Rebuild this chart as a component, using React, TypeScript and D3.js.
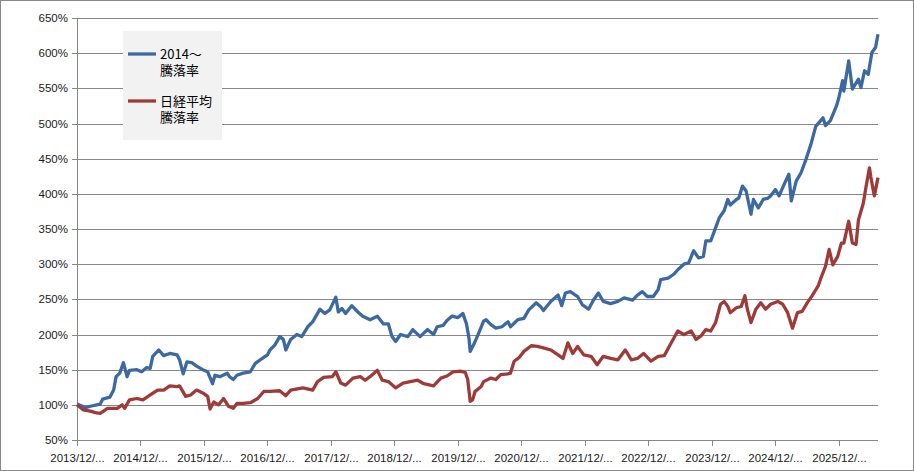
import React from 'react';
import * as d3 from 'd3';

// weekly index from the first week of 2013/12, value in %
const stockSeries: [number, number][] = [
  [0, 101], [7, 96], [11, 98], [19, 101], [21, 108], [27, 111], [30, 121], [32, 140], [35, 145], [38, 160],
  [41, 140], [43, 149], [49, 150], [53, 147], [57, 153], [60, 152], [62, 169], [67, 178], [71, 170], [76, 173],
  [82, 171], [84, 164], [87, 144], [90, 161], [94, 160], [98, 155], [103, 150], [107, 147], [111, 130], [113, 142],
  [117, 140], [123, 145], [125, 140], [128, 136], [131, 142], [136, 145], [142, 147], [146, 159], [150, 164], [156, 171],
  [158, 178], [162, 185], [166, 197], [169, 193], [171, 178], [175, 193], [180, 200], [184, 197], [189, 211], [193, 218],
  [197, 230], [199, 236], [203, 230], [207, 235], [212, 253], [214, 232], [217, 237], [220, 230], [225, 241], [230, 232],
  [234, 226], [240, 221], [246, 226], [251, 215], [255, 215], [258, 197], [261, 190], [265, 200], [271, 197], [275, 207],
  [281, 197], [287, 207], [292, 200], [295, 211], [300, 213], [303, 220], [307, 226], [312, 224], [316, 230], [319, 215],
  [321, 195], [322, 176], [325, 186], [329, 202], [333, 219], [335, 221], [339, 214], [343, 209], [348, 211], [353, 218],
  [355, 211], [361, 221], [366, 223], [370, 235], [376, 245], [380, 239], [382, 234], [388, 247], [394, 256], [397, 241],
  [400, 259], [404, 261], [410, 254], [414, 242], [419, 236], [423, 249], [427, 259], [431, 247], [437, 244], [443, 247],
  [448, 252], [455, 249], [459, 256], [463, 261], [467, 254], [472, 254], [476, 264], [478, 278], [484, 280], [489, 286],
  [492, 292], [497, 300], [501, 302], [505, 319], [509, 309], [513, 311], [515, 333], [519, 333], [522, 347], [526, 366],
  [530, 376], [533, 392], [535, 384], [540, 392], [542, 394], [545, 411], [548, 404], [552, 371], [554, 392], [558, 380],
  [562, 392], [566, 394], [568, 397], [572, 406], [575, 397], [579, 413], [583, 428], [585, 390], [589, 418], [593, 430],
  [597, 449], [601, 470], [605, 496], [611, 508], [613, 497], [617, 504], [622, 525], [624, 537], [627, 561], [628, 546],
  [632, 589], [635, 549], [640, 563], [642, 551], [645, 575], [648, 570], [651, 601], [654, 608], [656, 627],
];

const nikkeiSeries: [number, number][] = [
  [0, 100], [5, 93], [11, 91], [15, 89], [19, 88], [25, 95], [33, 95], [37, 100], [39, 95], [43, 107],
  [49, 109], [54, 107], [60, 114], [66, 121], [71, 121], [76, 127], [82, 126], [84, 127], [89, 112], [93, 114],
  [98, 121], [103, 117], [107, 112], [109, 94], [112, 104], [116, 100], [120, 109], [124, 98], [128, 95], [131, 102],
  [136, 102], [142, 103], [148, 109], [153, 119], [158, 119], [166, 120], [171, 113], [175, 121], [185, 124], [193, 121],
  [197, 133], [202, 139], [209, 140], [212, 147], [216, 131], [220, 128], [226, 138], [232, 140], [236, 135], [240, 140],
  [246, 149], [250, 135], [255, 133], [261, 124], [267, 131], [273, 133], [279, 135], [284, 130], [292, 127], [298, 138],
  [303, 141], [308, 147], [314, 148], [318, 146], [320, 136], [322, 105], [324, 107], [326, 119], [331, 126], [333, 133],
  [339, 138], [343, 136], [347, 143], [353, 144], [355, 145], [358, 162], [362, 167], [366, 176], [372, 184], [377, 183],
  [382, 181], [388, 178], [394, 171], [398, 166], [402, 188], [406, 173], [410, 183], [415, 171], [421, 169], [426, 157],
  [431, 169], [437, 166], [443, 164], [449, 178], [454, 164], [459, 166], [464, 173], [470, 162], [476, 169], [481, 170],
  [485, 183], [492, 205], [497, 200], [503, 205], [507, 193], [511, 198], [515, 207], [519, 205], [523, 217], [527, 243],
  [530, 247], [533, 240], [535, 231], [540, 238], [544, 240], [547, 255], [549, 236], [552, 217], [556, 236], [560, 245],
  [564, 236], [568, 243], [574, 247], [578, 243], [582, 231], [586, 209], [590, 231], [594, 233], [598, 245], [602, 255],
  [607, 269], [609, 279], [613, 297], [616, 321], [619, 299], [623, 311], [626, 330], [628, 330], [632, 361], [635, 330],
  [638, 328], [640, 363], [644, 387], [646, 408], [649, 437], [650, 425], [653, 397], [656, 423],
];

const yearLabels = [
  '2013/12/...', '2014/12/...', '2015/12/...', '2016/12/...', '2017/12/...', '2018/12/...', '2019/12/...',
  '2020/12/...', '2021/12/...', '2022/12/...', '2023/12/...', '2024/12/...', '2025/12/...',
];
const weeksPerYear = 52;
const lastWeek = 656;
const yTicks = [50, 100, 150, 200, 250, 300, 350, 400, 450, 500, 550, 600, 650];

const legendItems = [
  { lines: ['2014～', '騰落率'], color: '#3d69a2' },
  { lines: ['日経平均', '騰落率'], color: '#9e3b38' },
];

const W = 914;
const H = 471;
const margin = { top: 18, right: 36, bottom: 31, left: 77 };

const App: React.FC = () => {
  const x = d3.scaleLinear().domain([0, lastWeek]).range([margin.left, W - margin.right]);
  const y = d3.scaleLinear().domain([50, 650]).range([H - margin.bottom, margin.top]);

  const line = d3.line<[number, number]>()
    .x(d => x(d[0]))
    .y(d => y(d[1]));

  const crisp = (v: number) => Math.round(v) + 0.5;
  const axisColor = '#878787';
  const font = '"Liberation Sans", Arial, sans-serif';

  return (
    <div style={{ position: 'absolute', left: 0, top: 0 }}>
      <svg width={W} height={H} style={{ display: 'block' }}>
        <rect x={0.5} y={0.5} width={W - 1} height={H - 1} fill="#fff" stroke={axisColor} />

        {yTicks.map(t => (
          <g key={t}>
            <line x1={x(0) - 5} x2={x(lastWeek)} y1={crisp(y(t))} y2={crisp(y(t))} stroke={axisColor} />
            <text x={68} y={y(t)} dy="0.35em" textAnchor="end" fontSize={11.5} fontFamily={font} fill="#1a1a1a">
              {t}%
            </text>
          </g>
        ))}

        <line x1={crisp(x(0))} x2={crisp(x(0))} y1={y(650)} y2={y(50)} stroke={axisColor} />

        {yearLabels.map((label, i) => {
          const px = crisp(x(i * weeksPerYear));
          return (
            <g key={label}>
              <line x1={px} x2={px} y1={y(50)} y2={y(50) + 6} stroke={axisColor} />
              <text x={px} y={462} textAnchor="middle" fontSize={11.5} fontFamily={font} fill="#1a1a1a">
                {label}
              </text>
            </g>
          );
        })}

        <path d={line(stockSeries) || ''} fill="none" stroke={legendItems[0].color} strokeWidth={3.3} strokeLinejoin="round" />
        <path d={line(nikkeiSeries) || ''} fill="none" stroke={legendItems[1].color} strokeWidth={3.3} strokeLinejoin="round" />

        <g transform="translate(123,31)">
          <rect width={99} height={109} fill="#f2f2f2" />
          {legendItems.map((item, i) => (
            <g key={i} transform={`translate(0,${23 + i * 47})`}>
              <line x1={5} x2={33} y1={0} y2={0} stroke={item.color} strokeWidth={3.3} />
              <text x={37} y={0} fontSize={13} fontFamily='"Noto Sans CJK JP", "Noto Sans", sans-serif' fill="#000">
                {item.lines.map((s, j) => (
                  <tspan key={j} x={37} y={j * 16.5} dy="0.35em">{s}</tspan>
                ))}
              </text>
            </g>
          ))}
        </g>
      </svg>
    </div>
  );
};

export default App;
